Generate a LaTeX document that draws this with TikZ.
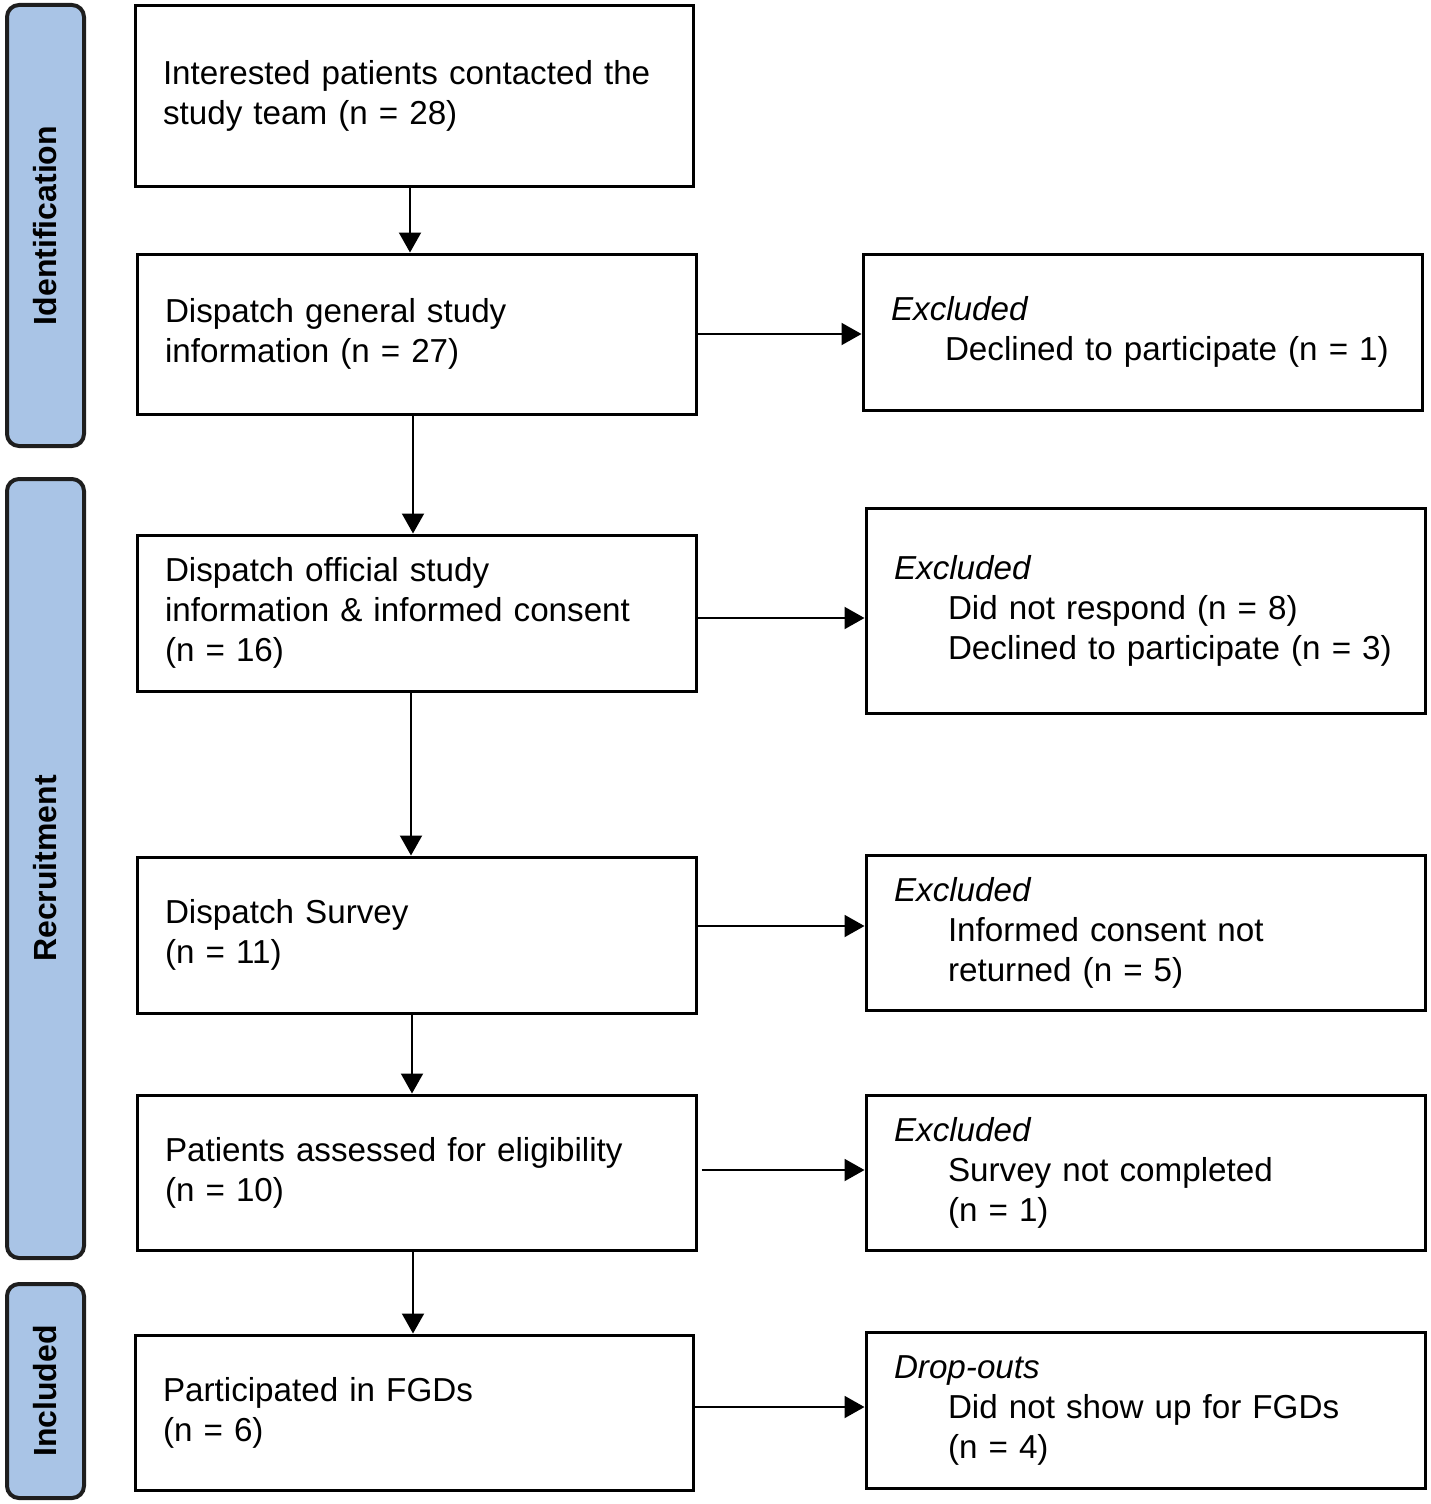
\documentclass[tikz,border=0pt]{standalone}
\usepackage{fontspec}
\setmainfont{Liberation Sans}
\usetikzlibrary{arrows.meta,calc}
\definecolor{barblue}{HTML}{A9C4E6}
\definecolor{barline}{HTML}{1E1E1E}
\newcommand{\ind}[1]{\mbox{\hspace*{27pt}#1}}
\begin{document}
\begin{tikzpicture}[x=0.5pt,y=-0.5pt,
  box/.style={draw=black,line width=1.5pt,rectangle,inner xsep=14pt,inner ysep=0pt,
    align=left,font=\fontsize{16.6}{20}\selectfont},
  lbox/.style={box,minimum width=279.5pt,text width=251.5pt},
  bar/.style={draw=barline,fill=barblue,line width=2pt,rounded corners=6pt,
    minimum width=38.5pt,inner sep=0pt},
  barlabel/.style={font=\fontsize{16}{19}\selectfont\bfseries,rotate=90},
  arr/.style={line width=1pt,-{Triangle[width=11pt,length=10pt]}}]
\useasboundingbox (0,0) rectangle (1430,1504);
% phase bars
\node[bar,minimum height=220.5pt] (idbar) at (45.5,225.5) {};
\node[barlabel] (idlab) at (idbar.center) {Identification};
\node[bar,minimum height=389.5pt] (recbar) at (45.5,868.5) {};
\node[barlabel] (reclab) at (recbar.center) {Recruitment};
\node[bar,minimum height=107pt] (incbar) at (45.5,1391) {};
\node[barlabel] (inclab) at (incbar.center) {Included};
% main boxes
\node[lbox,minimum width=279pt,text width=251pt,minimum height=90pt] (b1) at (414,96)
  {\mbox{Interested patients contacted the}\\study team (n = 28)};
\node[lbox,minimum height=80pt] (b2) at (416.5,334)
  {Dispatch general study\\information (n = 27)};
\node[lbox,minimum height=78pt] (b3) at (416.5,613)
  {Dispatch official study\\\mbox{information \& informed consent}\\(n = 16)};
\node[lbox,minimum height=78pt] (b4) at (416.5,935)
  {Dispatch Survey\\(n = 11)};
\node[lbox,minimum height=77.5pt] (b5) at (416.5,1172.5)
  {\mbox{Patients assessed for eligibility}\\(n = 10)};
\node[lbox,minimum width=279pt,text width=251pt,minimum height=77.5pt] (b6) at (414,1412.5)
  {Participated in FGDs\\(n = 6)};
% exclusion boxes
\node[lbox,minimum height=78pt] (r1) at (1142.5,332)
  {\textit{Excluded}\\\ind{Declined to participate (n = 1)}};
\node[lbox,minimum height=102.5pt] (r2) at (1145.5,610.5)
  {\textit{Excluded}\\\ind{Did not respond (n = 8)}\\\ind{Declined to participate (n = 3)}};
\node[lbox,minimum height=77.5pt] (r3) at (1145.5,932.5)
  {\textit{Excluded}\\\ind{Informed consent not}\\\ind{returned (n = 5)}};
\node[lbox,minimum height=77.5pt] (r4) at (1145.5,1172.5)
  {\textit{Excluded}\\\ind{Survey not completed}\\\ind{(n = 1)}};
\node[lbox,minimum height=78pt] (r5) at (1145.5,1410)
  {\textit{Drop-outs}\\\ind{Did not show up for FGDs}\\\ind{(n = 4)}};
% vertical arrows
\draw[arr] ($(b1.south)+(-4,0)$) -- ($(b1.south |- b2.north)+(-4,0)$);
\draw[arr] ($(b2.south)+(-3.5,0)$) -- ($(b2.south |- b3.north)+(-3.5,0)$);
\draw[arr] ($(b3.south)+(-5.5,0)$) -- ($(b3.south |- b4.north)+(-5.5,0)$);
\draw[arr] ($(b4.south)+(-4.5,0)$) -- ($(b4.south |- b5.north)+(-4.5,0)$);
\draw[arr] ($(b5.south)+(-3.5,0)$) -- ($(b5.south |- b6.north)+(-3.5,0)$);
% horizontal arrows
\draw[arr] (b2.east) -- (b2.east -| r1.west);
\draw[arr] ($(b3.east)+(0,5)$) -- ($(b3.east -| r2.west)+(0,5)$);
\draw[arr] ($(b4.east)+(0,-9)$) -- ($(b4.east -| r3.west)+(0,-9)$);
\draw[arr] ($(b5.east)+(4,-2.5)$) -- ($(b5.east -| r4.west)+(0,-2.5)$);
\draw[arr] ($(b6.east)+(0,-5.5)$) -- ($(b6.east -| r5.west)+(0,-5.5)$);
\end{tikzpicture}
\end{document}
